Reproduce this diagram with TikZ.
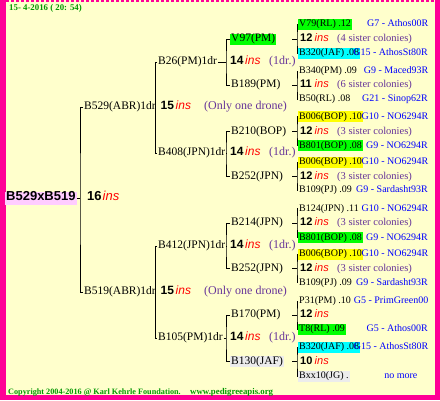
\documentclass[tikz,border=0pt]{standalone}
\usepackage{fontspec}
\setmainfont{Liberation Serif}
\newfontfamily\sansf{Liberation Sans}
\definecolor{bgc}{RGB}{255,255,204}
\definecolor{mag}{RGB}{255,0,150}
\definecolor{grn}{RGB}{0,255,0}
\definecolor{cyn}{RGB}{0,255,255}
\definecolor{yel}{RGB}{255,255,0}
\definecolor{gry}{RGB}{236,236,236}
\definecolor{pnk}{RGB}{255,204,255}
\definecolor{purp}{RGB}{102,51,153}
\definecolor{blu}{RGB}{0,0,255}
\definecolor{ftgreen}{RGB}{0,150,0}
\begin{document}
\begin{tikzpicture}[x=1pt,y=-1pt,
  base/.style={inner xsep=1pt, inner ysep=0.5pt, text height=.75em, text depth=.25em, anchor=west},
  nmsmall/.style={base, font=\fontsize{10}{12}\selectfont},
  nmbig/.style={base, font=\fontsize{11.5}{13}\selectfont},
  rootbox/.style={base, inner ysep=1.5pt, fill=pnk, font=\sansf\bfseries\fontsize{13}{15}\selectfont},
  numbig/.style={base, font=\sansf\bfseries\fontsize{13}{15}\selectfont},
  nummid/.style={base, font=\sansf\bfseries\fontsize{12}{14}\selectfont},
  numsmall/.style={base, font=\sansf\bfseries\fontsize{11}{13}\selectfont},
  insbig/.style={base, text=red, font=\sansf\itshape\fontsize{13}{15}\selectfont},
  insmid/.style={base, text=red, font=\sansf\itshape\fontsize{12}{14}\selectfont},
  inssmall/.style={base, text=red, font=\sansf\itshape\fontsize{11}{13}\selectfont},
  cmtbig/.style={base, text=purp, font=\fontsize{12}{14}\selectfont},
  cmtsmall/.style={base, text=purp, font=\fontsize{10.5}{12}\selectfont},
  glab/.style={base, anchor=east, text=blu, font=\fontsize{10}{12}\selectfont},
  foot/.style={base, text=ftgreen, font=\bfseries\fontsize{8.2}{10}\selectfont},
  wire/.style={line width=0.9pt, black}
]
\useasboundingbox (0,0) rectangle (440,400);
\fill[bgc] (0,0) rectangle (440,400);
\fill[mag] (0,0) rectangle (6,400);
\fill[mag] (435,0) rectangle (440,400);
\fill[mag] (0,395) rectangle (440,400);
\draw[mag, line width=1.5pt, dash pattern=on 3pt off 2pt] (6,0.75) -- (435,0.75);

% header and footer
\node[foot, font=\bfseries\fontsize{8.8}{10}\selectfont] (date) at (8,8) {15- 4-2016 ( 20: 54)};
\node[foot] (copy) at (7,392) {Copyright 2004-2016 @ Karl Kehrle Foundation.};
\node[foot, font=\bfseries\fontsize{8.8}{10}\selectfont] (web) at (189,392) {www.pedigreeapis.org};

% root
\node[rootbox] (root) at (5,198) {B529xB519};
\node[numbig] (rn) at (86,198) {16};
\node[insbig] (ri) at (101.5,198) {ins};
\coordinate (v0) at (80,198);

% generation 1
\begin{scope}
  \clip (81,90) rectangle (155.5,125);
  \node[nmbig] (g1a) at (83,107) {B529(ABR)1dr};
\end{scope}
\begin{scope}
  \clip (81,275) rectangle (155.5,310);
  \node[nmbig] (g1b) at (83,292) {B519(ABR)1dr};
\end{scope}
\draw[wire] (root.east) -- (v0);
\draw[wire] (g1a.west) -| (v0) |- (g1b.west);

\foreach \id/\py in {a/107, b/292}{
  \node[nummid] (n1\id) at (159.5,\py) {15};
  \node[insmid] (i1\id) at (174.5,\py) {ins};
  \node[cmtbig] (c1\id) at (203,\py) {(Only one drone)};
}
\coordinate (v1a) at (155.5,107);
\coordinate (v1b) at (155.5,292);

% generation 2
\foreach \id/\up/\py/\pn/\ya/\na/\fa/\yb/\nb/\fb in {
  p/a/62/{B26(PM)1dr}/39/{V97(PM)}/grn/85/{B189(PM)}/none,
  q/a/153/{B408(JPN)1dr}/131.5/{B210(BOP)}/none/176.5/{B252(JPN)}/none,
  r/b/246/{B412(JPN)1dr}/223/{B214(JPN)}/none/268.5/{B252(JPN)}/none,
  s/b/338/{B105(PM)1dr}/315/{B170(PM)}/none/361.5/{B130(JAF)}/gry}{
  \node[nmbig] (\id0) at (157,\py) {\pn};
  \node[nmbig, fill=\fa] (\id1) at (230,\ya) {\na};
  \node[nmbig, fill=\fb] (\id2) at (230,\yb) {\nb};
  \coordinate (v2\id) at (226,\py);
  \node[nummid] (n2\id) at (229,\py) {14};
  \node[insmid] (i2\id) at (244,\py) {ins};
  \node[cmtbig] (c2\id) at (268,\py) {(1dr.)};
  \draw[wire] (\id0.east) -- (v2\id);
  \draw[wire] (\id1.west) -| (v2\id) |- (\id2.west);
}
\draw[wire] (p0.west) -| (v1a) |- (q0.west);
\draw[wire] (r0.west) -| (v1b) |- (s0.west);

% generation 3
\foreach \id/\py/\ya/\yb/\na/\fa/\ga/\nb/\fb/\gb/\gbx/\n/\c in {
  a/39/24/53/{V79(RL) .12}/grn/{G7 - Athos00R}/{B320(JAF) .08}/cyn/{G15 - AthosSt80R}/429/12/{(4 sister colonies)},
  b/85/71/99/{B340(PM) .09}/none/{G9 - Maced93R}/{B50(RL) .08}/none/{G21 - Sinop62R}/429/11/{(6 sister colonies)},
  c/131.5/116.5/145.5/{B006(BOP) .10}/yel/{G10 - NO6294R}/{B801(BOP) .08}/grn/{G9 - NO6294R}/429/12/{(3 sister colonies)},
  d/176.5/162/190/{B006(BOP) .10}/yel/{G10 - NO6294R}/{B109(PJ) .09}/none/{G9 - Sardasht93R}/429/12/{(3 sister colonies)},
  e/223/208.5/237.5/{B124(JPN) .11}/none/{G10 - NO6294R}/{B801(BOP) .08}/grn/{G9 - NO6294R}/429/12/{(3 sister colonies)},
  f/268.5/254/282.5/{B006(BOP) .10}/yel/{G10 - NO6294R}/{B109(PJ) .09}/none/{G9 - Sardasht93R}/429/12/{(3 sister colonies)},
  g/315/301/329/{P31(PM) .10}/none/{G5 - PrimGreen00}/{T8(RL) .09}/grn/{G5 - Athos00R}/429/12/{},
  h/361.5/347/376/{B320(JAF) .08}/cyn/{G15 - AthosSt80R}/{Bxx10(JG) .}/gry/{no more}/418.5/10/{}}{
  \coordinate (v3\id) at (297,\py);
  \node[nmsmall, fill=\fa] (t1\id) at (298,\ya) {\na};
  \node[nmsmall, fill=\fb] (t2\id) at (298,\yb) {\nb};
  \node[glab] (h1\id) at (429.5,\ya) {\ga};
  \node[glab] (h2\id) at (\gbx,\yb) {\gb};
  \node[numsmall] (n3\id) at (299,\py) {\n};
  \node[inssmall] (i3\id) at (313.5,\py) {ins};
  \node[cmtsmall] (c3\id) at (336,\py) {\c};
  \draw[wire] (t1\id.west) -| (v3\id) |- (t2\id.west);
  \draw[wire] (v3\id) -- ++(-5,0);
}
\end{tikzpicture}
\end{document}
